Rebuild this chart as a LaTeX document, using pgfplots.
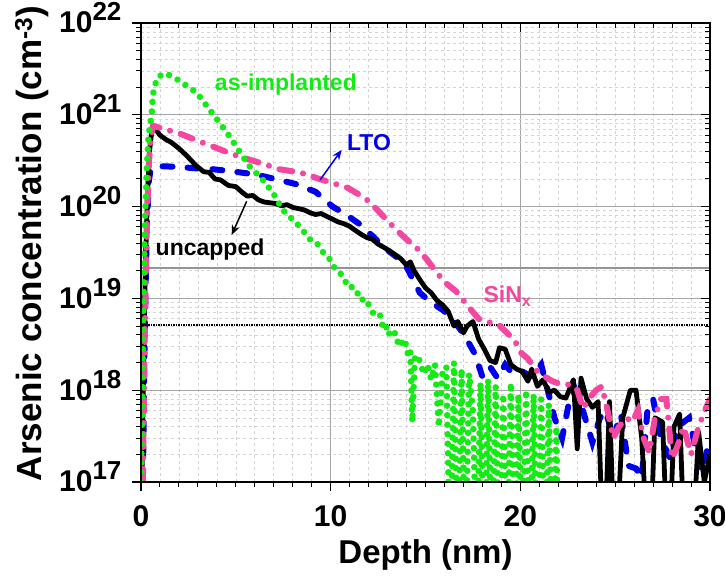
\documentclass[border=0pt]{standalone}
\usepackage{fontspec}
\setmainfont{Liberation Sans}
\usepackage{pgfplots}
\pgfplotsset{compat=1.18}
\usetikzlibrary{arrows.meta}
\definecolor{cgreen}{RGB}{20,235,20}
\definecolor{cblue}{RGB}{0,0,235}
\definecolor{cpink}{RGB}{245,70,160}
\definecolor{majgrid}{RGB}{165,165,165}
\definecolor{mingrid}{RGB}{212,212,212}
\newcommand{\dec}[1]{10\raisebox{12pt}{\fontsize{26}{26}\selectfont #1}}
\begin{document}
\begin{tikzpicture}
\path[use as bounding box] (-141pt,-101pt) rectangle (584pt,482pt);
\begin{axis}[
  at={(0,0)}, anchor=south west,
  scale only axis, width=569pt, height=459pt,
  xmin=0, xmax=30, ymin=1e17, ymax=1e22, ymode=log,
  xtick={0,10,20,30}, minor x tick num=9,
  ytick={1e17,1e18,1e19,1e20,1e21,1e22},
  minor ytick={2e17,3e17,4e17,5e17,6e17,7e17,8e17,9e17,2e18,3e18,4e18,5e18,6e18,7e18,8e18,9e18,2e19,3e19,4e19,5e19,6e19,7e19,8e19,9e19,2e20,3e20,4e20,5e20,6e20,7e20,8e20,9e20,2e21,3e21,4e21,5e21,6e21,7e21,8e21,9e21},
  major tick length=9pt, minor tick length=5pt,
  tick style={black, line width=1.3pt}, minor tick style={line width=1pt},
  axis line style={line width=1.5pt},
  xticklabels={0,10,20,30},
  yticklabels={\dec{17},\dec{18},\dec{19},\dec{20},\dec{21},\dec{22}},
  tick pos=left, tick align=outside,
  grid=both,
  major grid style={majgrid, line width=1pt},
  minor grid style={mingrid, dashed, line width=0.6pt},
  ticklabel style={font=\fontsize{30}{31}\selectfont\bfseries},
  xticklabel style={yshift=-11pt},
  yticklabel style={xshift=-7pt, yshift=5pt},
  label style={font=\fontsize{35}{38}\selectfont\bfseries},
  xlabel={Depth (nm)}, ylabel={Arsenic concentration (cm\textsuperscript{-3})},
  xlabel style={at={(axis description cs:0.5,-0.16)}, anchor=center, font=\fontsize{33}{36}\selectfont\bfseries},
  ylabel style={at={(axis description cs:-0.192,0.52)}, anchor=center},
]
% reference levels
\addplot[majgrid!90!black, line width=1.6pt] coordinates {(0,2.13e19) (30,2.13e19)};
\addplot[black, line width=2pt, dash pattern=on 1.5pt off 1pt] coordinates {(0,5.1e18) (30,5.1e18)};
% LTO
\addplot[cblue, line width=6pt, line cap=round, dash pattern=on 10pt off 15pt] coordinates {
(0.1,1e17) (0.2,5e18) (0.3,5e19) (0.4,1.8e20) (0.5,2.5e20) (0.8,2.7e20) (1.2,2.75e20) (2.0,2.7e20)
(3.0,2.6e20) (3.8,2.55e20) (4.6,2.45e20) (5.6,2.3e20) (6.4,2.15e20) (7.3,1.95e20) (8.2,1.75e20)
(9.2,1.45e20) (10.1,1.0e20) (10.8,8.2e19) (11.5,6.5e19) (12.2,4.8e19) (12.8,3.6e19) (13.4,2.9e19)
(14.0,2.2e19) (14.7,1.15e19) (15.3,9e18) (15.9,7.5e18) (16.3,6.3e18) (16.8,4.7e18) (17.2,3.5e18)
(17.6,2.5e18) (18.0,1.4e18) (18.4,1.8e18) (18.8,1.35e18) (19.2,1.9e18) (19.6,1.5e18) (20.1,1.6e18)
(20.6,1.4e18) (21.1,1.9e18) (21.5,9e17) (21.8,5e17) (22.2,3e17) (22.6,8e17) (22.9,1.0e18)
(23.3,6e17) (23.8,2.7e17) (24.2,5e17) (24.5,6e17) (24.9,3e17) (25.3,5.5e17) (25.7,1.5e17)
(26.1,1.4e17) (26.4,1.1e17) (26.7,6e17) (27.0,8e17) (27.4,3e17) (27.9,1.8e17) (28.3,4e17)
(28.9,5e17) (29.3,2e17) (29.6,1.3e17) (29.9,2.5e17)};
% uncapped
\addplot[black, line width=4.8pt, line join=round] coordinates {
(0.05,1e17) (0.15,3e18) (0.25,3e19) (0.35,1.5e20) (0.45,4e20) (0.6,7.6e20) (0.8,6.8e20) (1.0,6.0e20)
(1.3,5.4e20) (1.6,5.0e20) (2.0,4.3e20) (2.4,3.6e20) (2.9,2.8e20) (3.3,2.4e20) (3.6,2.35e20)
(3.9,2.0e20) (4.2,1.95e20) (4.6,1.7e20) (5.0,1.65e20) (5.3,1.45e20) (5.6,1.3e20) (5.9,1.32e20)
(6.2,1.18e20) (6.5,1.12e20) (6.8,1.1e20) (7.1,1.08e20) (7.4,1.02e20) (7.7,1.05e20) (8.0,9.8e19)
(8.3,9.5e19) (8.6,9.2e19) (8.9,8.6e19) (9.2,8.2e19) (9.5,8.4e19) (9.8,7.8e19) (10.1,7.3e19)
(10.4,6.8e19) (10.7,6.5e19) (11.0,6.1e19) (11.3,5.5e19) (11.6,5.0e19) (11.9,4.6e19) (12.2,4.4e19)
(12.5,3.9e19) (12.8,3.6e19) (13.1,3.3e19) (13.4,3.0e19) (13.7,2.7e19) (14.0,2.3e19) (14.2,2.5e19)
(14.4,2.0e19) (14.7,1.6e19) (15.0,1.3e19) (15.3,1.15e19) (15.6,9.5e18) (15.9,8.5e18) (16.2,7.2e18)
(16.5,5.0e18) (16.7,5.6e18) (17.0,4.2e18) (17.2,5.0e18) (17.5,5.6e18) (17.8,3.6e18) (18.1,2.8e18)
(18.4,2.1e18) (18.7,2.0e18) (18.9,2.9e18) (19.2,2.8e18) (19.5,1.9e18) (19.8,1.7e18) (20.1,1.6e18)
(20.4,1.25e18) (20.6,1.7e18) (20.9,1.1e18) (21.2,1.3e18) (21.5,9.5e17) (21.8,1.0e18) (22.1,8.5e17)
(22.4,8.2e17) (22.8,1.3e18) (23.0,2.3e17) (23.2,1.35e18) (23.5,8e17) (23.8,6.5e17) (24.1,7.5e17)
(24.4,1e16) (24.7,7.5e17) (25.0,1e16) (25.4,5e17) (25.8,1e18) (26.1,1.0e18) (26.4,3e17) (26.8,1e16)
(27.1,5e17) (27.5,4.5e17) (27.8,1e16) (28.1,4e17) (28.4,5.5e17) (28.7,1e16) (29.0,1e16)
(29.4,3.5e17) (29.7,1e17) (30.0,2e17)};
% SiNx
\addplot[cpink, line width=6pt, line cap=round, dash pattern=on 13pt off 11pt on 0.01pt off 11pt] coordinates {
(0.1,1e17) (0.2,4e18) (0.3,5e19) (0.4,2.5e20) (0.5,5.5e20) (0.65,7.6e20) (1.2,7.0e20) (2.0,6.3e20)
(3.0,5.2e20) (3.8,4.5e20) (4.7,3.8e20) (5.6,3.3e20) (6.5,2.9e20) (7.3,2.55e20) (8.4,2.35e20)
(9.4,2.0e20) (10.3,1.75e20) (10.9,1.6e20) (11.5,1.35e20) (12.0,1.15e20) (12.5,9e19) (13.0,7e19)
(13.5,5.5e19) (14.0,4.4e19) (14.7,3.3e19) (15.1,2.6e19) (15.6,1.9e19) (16.1,1.45e19) (16.6,1.2e19)
(17.0,9.5e18) (17.4,7.5e18) (17.8,6.0e18) (18.3,5.5e18) (18.8,5.3e18) (19.2,4.4e18) (19.7,3.5e18)
(20.0,2.6e18) (20.4,2.2e18) (20.9,1.6e18) (21.3,1.4e18) (21.7,1.25e18) (22.2,1.15e18) (22.7,1.15e18)
(23.0,1.0e18) (23.3,6.3e17) (23.7,8.5e17) (24.0,1.0e18) (24.3,1.1e18) (24.6,6e17) (24.9,3e17)
(25.2,4e17) (25.6,5e17) (25.9,4.5e17) (26.2,6e17) (26.5,3e17) (26.8,2.1e17) (27.1,5e17) (27.4,8e17)
(27.7,8e17) (28.0,1.8e17) (28.3,2.5e17) (28.6,4e17) (29.0,2e17) (29.4,4e17) (29.8,6.5e17) (30.0,8e17)};
% as-implanted
\addplot[cgreen, line width=6.5pt, line cap=round, line join=round, dash pattern=on 0.01pt off 9.5pt] coordinates {
(0.0,1e17) (0.05,5e17) (0.1,3e18) (0.15,1.5e19) (0.2,6e19) (0.3,2.5e20) (0.4,6e20) (0.56,1.0e21)
(0.63,1.66e21) (0.74,2.14e21) (0.9,2.57e21) (1.2,2.82e21) (1.5,2.7e21) (1.95,2.4e21) (2.94,1.74e21)
(3.64,1.12e21) (4.16,8.1e20) (4.69,5.75e20) (5.22,3.9e20) (5.75,2.7e20) (6.43,1.95e20) (6.96,1.41e20)
(7.49,9.1e19) (8.0,7.2e19) (8.38,6.0e19) (8.91,4.4e19) (9.2,4.2e19) (9.59,3.2e19) (9.9,2.8e19)
(10.1,2.3e19) (10.33,2.0e19) (10.6,1.8e19) (10.8,1.5e19) (11.0,1.5e19) (11.2,1.2e19) (11.39,1.17e19)
(11.6,9.5e18) (11.8,1.0e19) (12.07,8.1e18) (12.3,6.5e18) (12.6,6.6e18) (12.8,4.5e18) (13.0,5.0e18)
(13.13,3.8e18) (13.4,4.2e18) (13.6,3.0e18) (13.9,3.6e18) (14.1,2.3e18) (14.2,2.6e18) (14.3,4.5e17)
(14.45,2.4e18) (14.7,2.1e18) (14.9,1.5e18) (15.1,1.9e18) (15.3,1.3e18) (15.5,1.9e18) (15.7,4e17)
(15.9,1.6e18) (16.1,1.8e18)
(16.3,1e16) (16.5,2.0e18) (16.7,1e16) (16.9,1.7e18) (17.1,1e16) (17.3,1.5e18) (17.5,6e17) (17.7,1e16)
(17.9,1.2e18) (18.1,1e16) (18.3,1.3e18) (18.5,1e16) (18.7,1.1e18) (18.9,1e16) (19.1,9e17) (19.3,1e16)
(19.5,1.2e18) (19.7,1e16) (19.9,9e17) (20.1,1e16) (20.3,1.0e18) (20.5,1e16) (20.7,9e17) (20.9,1e16)
(21.1,8e17) (21.3,1e16) (21.5,7e17) (21.7,1e16) (21.9,4e17) (22.0,1e16)};
% annotations
\node[font=\fontsize{23}{24}\selectfont\bfseries, text=cgreen] at (axis cs:7.64,2.12e21) {as-implanted};
\node[font=\fontsize{23}{24}\selectfont\bfseries, text=cblue] at (axis cs:12.02,4.95e20) {LTO};
\node[font=\fontsize{23}{24}\selectfont\bfseries, text=black] at (axis cs:3.64,3.37e19) {uncapped};
\node[font=\fontsize{23}{24}\selectfont\bfseries, text=cpink, anchor=west, inner sep=0pt] at (axis cs:18.05,1.05e19) {SiN\textsubscript{x}};
\draw[cblue, line width=1.5pt, -{Stealth[length=10pt,width=8pt]}] (axis cs:9.44,1.95e20) -- (axis cs:10.58,4.15e20);
\draw[black, line width=1.5pt, -{Stealth[length=10pt,width=8pt]}] (axis cs:5.57,1.14e20) -- (axis cs:4.78,4.9e19);
\end{axis}
\begin{axis}[
  at={(0,0)}, anchor=south west,
  scale only axis, width=569pt, height=459pt,
  xmin=0, xmax=30, ymin=1e17, ymax=1e22, ymode=log,
  xtick={0,10,20,30}, minor x tick num=9,
  ytick={1e17,1e18,1e19,1e20,1e21,1e22},
  minor ytick={2e17,3e17,4e17,5e17,6e17,7e17,8e17,9e17,2e18,3e18,4e18,5e18,6e18,7e18,8e18,9e18,2e19,3e19,4e19,5e19,6e19,7e19,8e19,9e19,2e20,3e20,4e20,5e20,6e20,7e20,8e20,9e20,2e21,3e21,4e21,5e21,6e21,7e21,8e21,9e21},
  major tick length=9pt, minor tick length=5pt,
  tick style={black, line width=1.3pt}, minor tick style={line width=1pt},
  axis line style={line width=1.5pt},
  tick pos=right, tick align=inside, xticklabels={}, yticklabels={}]
\addplot[draw=none] coordinates {(1,1e18)};
\end{axis}
\end{tikzpicture}
\end{document}
